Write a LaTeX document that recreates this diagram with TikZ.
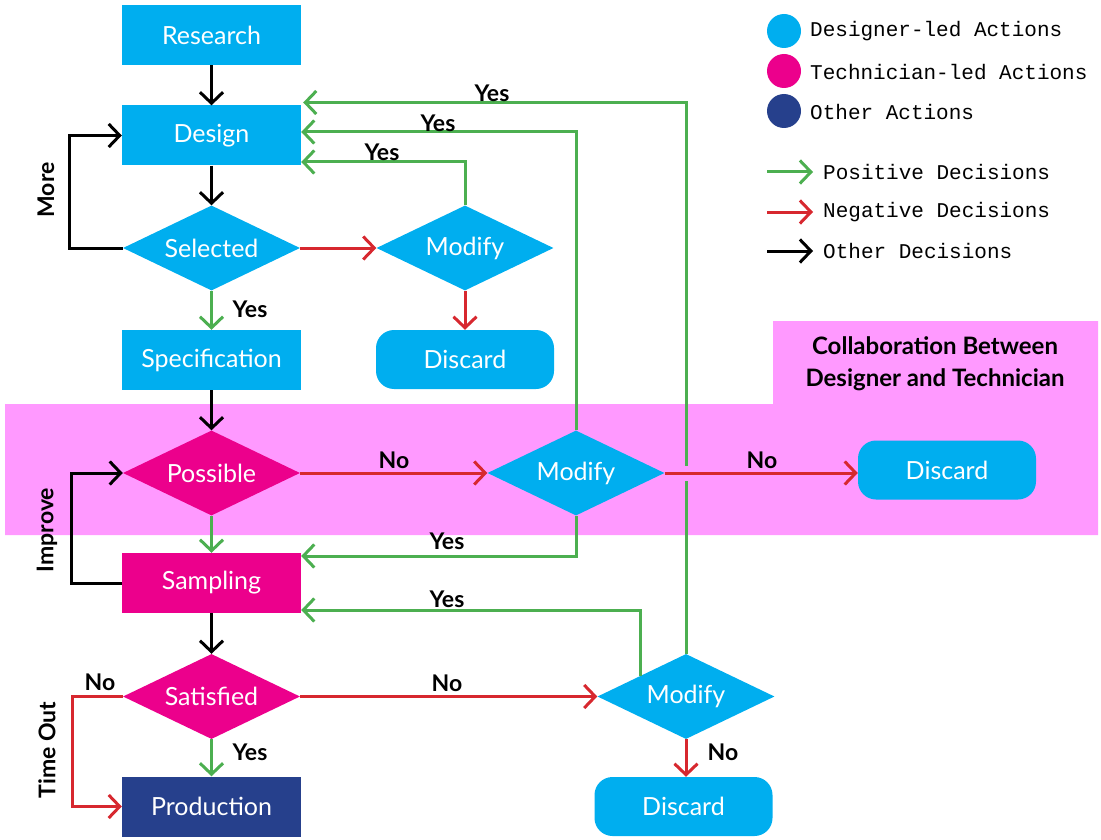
\documentclass[tikz,border=0pt]{standalone}
\usepackage{fontspec}
\setmainfont{Lato}
\newfontfamily\legendfont{Liberation Mono}
\usetikzlibrary{shapes.geometric,arrows.meta,calc}
\definecolor{designer}{HTML}{00AEEF}
\definecolor{technician}{HTML}{EC008C}
\definecolor{other}{HTML}{26408C}
\definecolor{band}{HTML}{FF99FF}
\definecolor{pos}{HTML}{4CAF50}
\definecolor{neg}{HTML}{D7282F}
\begin{document}
\begin{tikzpicture}[x=1pt,y=-1pt,
  act/.style={rectangle, minimum width=179pt, minimum height=60pt, inner sep=0pt,
    text=white, font=\fontsize{25}{30}\selectfont},
  endbox/.style={act, rounded corners=18pt, minimum width=178pt, minimum height=59pt},
  choice/.style={diamond, minimum width=177pt, minimum height=85pt, inner sep=0pt,
    label={[text=white, font=\fontsize{25}{30}\selectfont]center:#1}},
  conn/.style={line width=3pt, -{Straight Barb[length=11pt,width=23pt]}},
  posline/.style={conn, draw=pos},
  negline/.style={conn, draw=neg},
  othline/.style={conn, draw=black},
  lbl/.style={font=\fontsize{23}{26}\selectfont\bfseries, inner sep=0pt},
  legtext/.style={anchor=west, inner sep=0pt, font=\legendfont\fontsize{21}{24}\selectfont},
]
\useasboundingbox (0,0) rectangle (1101,840);

% collaboration band
\fill[band] (5,404) -- (773,404) -- (773,321) -- (1098,321) -- (1098,535) -- (5,535) -- cycle;
\node[lbl, align=center, font=\fontsize{24}{32}\selectfont\bfseries] (collab) at (935,364)
  {Collaboration Between\\Designer and Technician};

% actions and decisions
\node[act, fill=designer] (research) at (211.5,35) {Research};
\node[act, fill=designer] (design) at (211.5,135.5) {Design};
\node[choice=Selected, fill=designer] (selected) at (211.5,248) {};
\node[act, fill=designer] (spec) at (211.5,360) {Specification};
\node[choice=Modify, fill=designer] (mod1) at (465,248) {};
\node[endbox, fill=designer] (disc1) at (465,359.5) {Discard};
\node[choice=Possible, fill=technician] (possible) at (211.5,473) {};
\node[choice=Modify, fill=designer] (mod2) at (576,473) {};
\node[endbox, fill=designer] (disc2) at (947,470) {Discard};
\node[act, fill=technician] (sampling) at (211.5,583) {Sampling};
\node[choice=Satisfied, fill=technician] (satisfied) at (211.5,696.5) {};
\node[choice=Modify, fill=designer] (mod3) at (686,696.5) {};
\node[act, fill=other] (production) at (211.5,806.5) {Production};
\node[endbox, fill=designer] (disc3) at (683.5,806.5) {Discard};

% positive decisions
\draw[posline] (selected) -- (spec);
\draw[posline] (mod1.north) |- ($(design.east)+(0,26.5)$);
\draw[posline] (mod2.north) |- ($(design.east)+(0,-3.5)$);
\draw[posline] (mod3.north) |- ($(design.east)+(2,-33)$);
\draw[posline] (possible) -- (sampling);
\draw[posline] (mod2.south) |- ($(sampling.east)+(0,-27)$);
\draw[posline] ($(mod3.west)!0.483!(mod3.north)$) |- ($(sampling.east)+(0,27)$);
\draw[posline] (satisfied) -- (production);

% negative decisions
\draw[negline] (selected) -- (mod1);
\draw[negline] (mod1) -- (disc1);
\draw[negline] (possible) -- (mod2);
\draw[negline, preaction={draw=band, line width=15pt, -}] (mod2.east) -- (mod2.east -| disc2.west);
\draw[negline] (satisfied) -- (mod3);
\draw[negline] (satisfied.west) -- ++(-50,0) |- (production.west);
\draw[negline] (mod3.south) -- (mod3.south |- disc3.north);

% other decisions
\draw[othline] (research) -- (design);
\draw[othline] (design) -- (selected);
\draw[othline] (selected.west) -- ++(-53,0) |- (design.west);
\draw[othline] (spec) -- (possible);
\draw[othline] (sampling.west) -- ++(-50,0) |- (possible.west);
\draw[othline] (sampling) -- (satisfied);

% decision labels
\node[lbl] (ySel) at (250,309) {Yes};
\node[lbl] (yM1) at (382,152) {Yes};
\node[lbl] (yM2) at (438,123) {Yes};
\node[lbl] (yM3) at (492,93) {Yes};
\node[lbl] (nPos) at (394,460) {No};
\node[lbl] (nM2) at (762,460) {No};
\node[lbl] (yM2b) at (447,541) {Yes};
\node[lbl] (yM3b) at (447,599) {Yes};
\node[lbl] (nSat) at (447,683) {No};
\node[lbl] (nSatL) at (100,682) {No};
\node[lbl] (ySat) at (250,752) {Yes};
\node[lbl] (nM3) at (723,752) {No};
\node[lbl, rotate=90] (more) at (46,190) {More};
\node[lbl, rotate=90] (improve) at (47,530) {Improve};
\node[lbl, rotate=90] (timeout) at (47,750) {Time Out};

% legend
\fill[designer] (784,31) circle (17);
\fill[technician] (784,71) circle (17);
\fill[other] (784,111) circle (17);
\node[legtext] (l1) at (810,31) {Designer-led Actions};
\node[legtext] (l2) at (810,72) {Technician-led Actions};
\node[legtext] (l3) at (810,112) {Other Actions};
\coordinate (a1) at (767,172); \coordinate (b1) at (813,172);
\coordinate (a2) at (767,212); \coordinate (b2) at (813,212);
\coordinate (a3) at (767,251); \coordinate (b3) at (813,251);
\draw[posline] (a1) -- (b1);
\draw[negline] (a2) -- (b2);
\draw[othline] (a3) -- (b3);
\node[legtext] (l4) at (823,172) {Positive Decisions};
\node[legtext] (l5) at (823,212) {Negative Decisions};
\node[legtext] (l6) at (823,251) {Other Decisions};
\end{tikzpicture}
\end{document}
